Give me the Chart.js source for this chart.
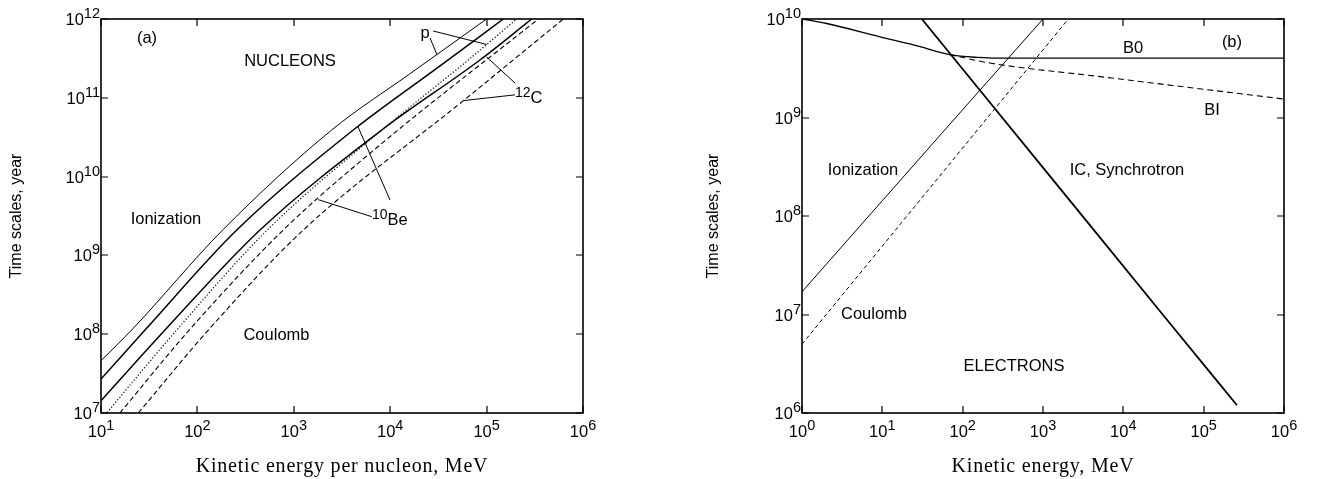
<!DOCTYPE html>
<html>
<head>
<meta charset="utf-8">
<script src="https://cdn.jsdelivr.net/npm/chart.js@4.4.1/dist/chart.umd.min.js"></script>
<style>
    body { margin: 0; background: #fff; }
    .panel { position: absolute; top: 0; width: 662px; height: 479px; }
    #panelA { left: 0; }
    #panelB { left: 662px; }
</style>
</head>
<body>
<div class="panel" id="panelA"><canvas id="nucleons"></canvas></div>
<div class="panel" id="panelB"><canvas id="electrons"></canvas></div>
<script>
// (a) nucleons: kinetic energy per nucleon (MeV) -> time scale (yr)
const pIonE   = [10, 20.8, 183, 2470, 15850, 1.0e5];
const pIonT   = [4.61e7, 1.13e8, 2.1e9, 3.9e10, 2.0e11, 1e12];
const beIonE  = [10, 28.6, 256, 4140, 31600, 1.49e5];
const beIonT  = [2.7e7, 1.13e8, 2.1e9, 3.9e10, 2.45e11, 1e12];
const cIonE   = [10, 46.1, 446, 8170, 85300, 2.94e5];
const cIonT   = [1.43e7, 1.13e8, 2.1e9, 3.9e10, 3.02e11, 1e12];
const pCoulE  = [10, 61, 531, 9950, 64600, 2.05e5];
const pCoulT  = [8.2e6, 1.13e8, 2.1e9, 4.74e10, 3.02e11, 1e12];
const beCoulE = [15.7, 82.4, 778, 7830, 3.44e5];
const beCoulT = [1e7, 1.13e8, 2.1e9, 2.52e10, 1e12];
const cCoulE  = [24.4, 130, 1256, 57500, 6.25e5];
const cCoulT  = [1e7, 1.13e8, 2.1e9, 9.2e10, 1e12];

// (b) electrons: kinetic energy (MeV) -> time scale (yr)
const b0E   = [1, 2.03, 9.4, 29.5, 69, 150, 400, 1e6];
const b0T   = [1e10, 9.0e9, 6.6e9, 5.25e9, 4.35e9, 4.08e9, 4.0e9, 4.0e9];
const biE   = [69, 219, 5130, 1e6];
const biT   = [4.35e9, 3.57e9, 2.6e9, 1.54e9];
const eIonE = [1, 10, 100, 1000];
const eIonT = [1.7e7, 1.43e8, 1.2e9, 1.0e10];
const eCoulE = [1, 10, 100, 2065];
const eCoulT = [5e6, 4.95e7, 4.9e8, 1e10];
const icE   = [31, 1000, 30000, 2.6e5];
const icT   = [1e10, 3.1e8, 1.03e7, 1.2e6];

// tick labels (powers of ten)
const nucXExp = [1, 2, 3, 4, 5, 6];
const nucYExp = [7, 8, 9, 10, 11, 12];
const eleXExp = [0, 1, 2, 3, 4, 5, 6];
const eleYExp = [6, 7, 8, 9, 10];

const SANS = '"Liberation Sans", Arial, Helvetica, sans-serif';
const SERIF = '"Liberation Serif", "Times New Roman", serif';

function pts(xs, ys) {
    return xs.map((x, i) => ({ x: x, y: ys[i] }));
}

function line(label, xs, ys, width, dash) {
    return {
        label: label,
        data: pts(xs, ys),
        borderColor: '#000',
        borderWidth: width,
        borderDash: dash || [],
        pointRadius: 0,
        fill: false,
        cubicInterpolationMode: 'monotone'
    };
}

// draws "10" with a raised exponent, left edge at x, baseline at y
function drawPow(ctx, exp, x, y) {
    ctx.font = '16.5px ' + SANS;
    ctx.textAlign = 'left';
    ctx.textBaseline = 'alphabetic';
    ctx.fillText('10', x, y);
    const wb = ctx.measureText('10').width;
    ctx.font = '14.5px ' + SANS;
    ctx.fillText(String(exp), x + wb, y - 7);
}

function powWidth(ctx, exp) {
    ctx.font = '16.5px ' + SANS;
    const wb = ctx.measureText('10').width;
    ctx.font = '14.5px ' + SANS;
    return wb + ctx.measureText(String(exp)).width;
}

// frame, inward ticks, tick labels, titles and annotations
function makeFrame(cfg) {
    return {
        id: 'frame',
        afterDraw(chart) {
            const ctx = chart.ctx;
            const a = chart.chartArea;
            const sx = chart.scales.x, sy = chart.scales.y;
            ctx.save();
            ctx.strokeStyle = '#000';
            ctx.fillStyle = '#000';

            ctx.lineWidth = 1.2;
            ctx.beginPath();
            cfg.xExp.forEach(e => {
                const px = Math.round(sx.getPixelForValue(Math.pow(10, e)));
                ctx.moveTo(px, a.bottom); ctx.lineTo(px, a.bottom - 7);
                ctx.moveTo(px, a.top); ctx.lineTo(px, a.top + 7);
            });
            cfg.yExp.forEach(e => {
                const py = Math.round(sy.getPixelForValue(Math.pow(10, e)));
                ctx.moveTo(a.left, py); ctx.lineTo(a.left + 7, py);
                ctx.moveTo(a.right, py); ctx.lineTo(a.right - 7, py);
            });
            ctx.stroke();

            ctx.lineWidth = 1.6;
            ctx.strokeRect(a.left, a.top, a.right - a.left, a.bottom - a.top);

            cfg.xExp.forEach(e => {
                const px = sx.getPixelForValue(Math.pow(10, e));
                drawPow(ctx, e, px - powWidth(ctx, e) / 2, a.bottom + 24);
            });
            cfg.yExp.forEach(e => {
                const py = sy.getPixelForValue(Math.pow(10, e));
                drawPow(ctx, e, a.left - 1 - powWidth(ctx, e), py + 6);
            });

            // axis titles
            ctx.font = '16px ' + SANS;
            ctx.textAlign = 'center';
            ctx.textBaseline = 'middle';
            ctx.save();
            ctx.translate(a.left - cfg.yTitleGap, (a.top + a.bottom) / 2);
            ctx.rotate(-Math.PI / 2);
            ctx.fillText('Time scales, year', 0, 0);
            ctx.restore();
            ctx.font = '20px ' + SERIF;
            ctx.letterSpacing = '0.8px';
            ctx.fillText(cfg.xTitle, (a.left + a.right) / 2, a.bottom + 54);
            ctx.letterSpacing = '0px';

            // leader lines
            ctx.lineWidth = 1;
            ctx.beginPath();
            cfg.leaders.forEach(l => {
                ctx.moveTo(sx.getPixelForValue(l[0]), sy.getPixelForValue(l[1]));
                ctx.lineTo(sx.getPixelForValue(l[2]), sy.getPixelForValue(l[3]));
            });
            ctx.stroke();

            // annotations
            cfg.notes.forEach(n => {
                const px = sx.getPixelForValue(n.x), py = sy.getPixelForValue(n.y);
                if (n.sup) {
                    ctx.textAlign = 'left';
                    ctx.textBaseline = 'alphabetic';
                    ctx.font = '14px ' + SANS;
                    ctx.fillText(n.sup, px, py - 6);
                    const w = ctx.measureText(n.sup).width;
                    ctx.font = '16.5px ' + SANS;
                    ctx.fillText(n.text, px + w, py);
                } else {
                    ctx.font = '16.5px ' + SANS;
                    ctx.textAlign = 'center';
                    ctx.textBaseline = 'middle';
                    ctx.fillText(n.text, px, py);
                }
            });
            ctx.restore();
        }
    };
}

function baseOptions(xmin, xmax, ymin, ymax, pad) {
    return {
        responsive: true,
        maintainAspectRatio: false,
        animation: false,
        layout: { padding: pad },
        plugins: { legend: { display: false }, tooltip: { enabled: false } },
        scales: {
            x: { type: 'logarithmic', min: xmin, max: xmax, display: false },
            y: { type: 'logarithmic', min: ymin, max: ymax, display: false }
        }
    };
}

new Chart(document.getElementById('nucleons'), {
    type: 'line',
    data: {
        datasets: [
            line('p ionization', pIonE, pIonT, 1),
            line('10Be ionization', beIonE, beIonT, 1.5),
            line('12C ionization', cIonE, cIonT, 1.5),
            line('p Coulomb', pCoulE, pCoulT, 1.2, [1.2, 2]),
            line('10Be Coulomb', beCoulE, beCoulT, 1.1, [5, 3]),
            line('12C Coulomb', cCoulE, cCoulT, 1.1, [5, 3])
        ]
    },
    options: baseOptions(10, 1e6, 1e7, 1e12, { left: 101, right: 79, top: 19, bottom: 66 }),
    plugins: [makeFrame({
        xExp: nucXExp, yExp: nucYExp, yTitleGap: 84,
        xTitle: 'Kinetic energy per nucleon, MeV',
        leaders: [
            [2.78e4, 7.05e11, 1.0e5, 4.75e11],
            [2.59e4, 5.74e11, 3.05e4, 3.54e11],
            [1.97e5, 1.54e11, 1.0e5, 3.3e11],
            [1.97e5, 1.09e11, 5.69e4, 9.2e10],
            [9950, 5.05e9, 4630, 4.3e10],
            [6430, 3.1e9, 1795, 5.1e9]
        ],
        notes: [
            { text: '(a)', x: 30, y: 5.74e11 },
            { text: 'NUCLEONS', x: 914, y: 2.93e11 },
            { text: 'Ionization', x: 47.2, y: 2.86e9 },
            { text: 'Coulomb', x: 661, y: 9.77e7 },
            { text: 'p', x: 2.3e4, y: 6.6e11 },
            { text: 'C', sup: '12', x: 1.97e5, y: 8.6e10 },
            { text: 'Be', sup: '10', x: 6470, y: 2.43e9 }
        ]
    })]
});

new Chart(document.getElementById('electrons'), {
    type: 'line',
    data: {
        datasets: [
            line('B0', b0E, b0T, 1.3),
            line('BI', biE, biT, 1.1, [6, 4]),
            line('Ionization', eIonE, eIonT, 1),
            line('Coulomb', eCoulE, eCoulT, 1, [4, 3]),
            line('IC, Synchrotron', icE, icT, 1.8)
        ]
    },
    options: baseOptions(1, 1e6, 1e6, 1e10, { left: 140, right: 40, top: 19, bottom: 66 }),
    plugins: [makeFrame({
        xExp: eleXExp, yExp: eleYExp, yTitleGap: 88,
        xTitle: 'Kinetic energy, MeV',
        leaders: [],
        notes: [
            { text: 'B0', x: 1.32e4, y: 5.08e9 },
            { text: '(b)', x: 2.25e5, y: 5.84e9 },
            { text: 'BI', x: 1.27e5, y: 1.19e9 },
            { text: 'IC, Synchrotron', x: 1.11e4, y: 2.93e8 },
            { text: 'Ionization', x: 5.74, y: 2.93e8 },
            { text: 'Coulomb', x: 7.87, y: 9.9e6 },
            { text: 'ELECTRONS', x: 435, y: 3.0e6 }
        ]
    })]
});
</script>
</body>
</html>
